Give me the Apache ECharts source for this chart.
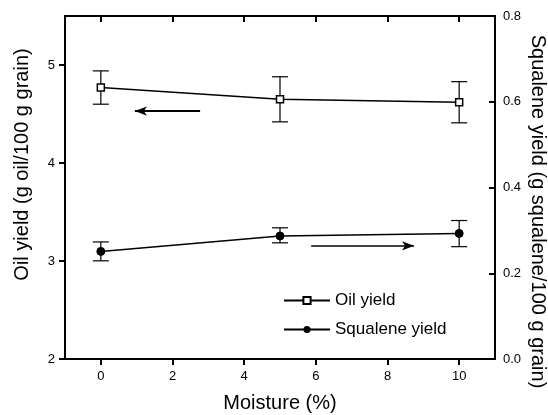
<!DOCTYPE html>
<html>
<head>
<meta charset="utf-8">
<script src="https://cdn.jsdelivr.net/npm/echarts@6/dist/echarts.min.js"></script>
<style>
  html, body { margin: 0; padding: 0; background: #fff; }
  #main { width: 548px; height: 415px; }
</style>
</head>
<body>
<div id="main"></div>
<script>
// moisture levels (%)
var moisture = [0, 5, 10];

// oil yield (g oil/100 g grain) with error bar ends
var oilYield = [4.77, 4.65, 4.62];
var oilLow   = [4.60, 4.42, 4.41];
var oilHigh  = [4.94, 4.88, 4.83];

// squalene yield (g squalene/100 g grain) with error bar ends
var squaleneYield = [0.251, 0.287, 0.293];
var squaleneLow   = [0.229, 0.271, 0.262];
var squaleneHigh  = [0.273, 0.306, 0.323];

// tick labels
var xTicks = [0, 2, 4, 6, 8, 10];
var leftTicks = [2, 3, 4, 5];

var FONT = 'Liberation Sans, Arial, sans-serif';

var chart = echarts.init(document.getElementById('main'));

function pairs(xs, ys) {
  return xs.map(function (x, i) { return [x, ys[i]]; });
}

// error bars drawn through the axis scales
function errorBar(low, high, yIdx) {
  return {
    type: 'custom',
    yAxisIndex: yIdx,
    silent: true,
    z: 1,
    data: moisture.map(function (x, i) { return [x, low[i], high[i]]; }),
    renderItem: function (params, api) {
      var lo = api.coord([api.value(0), api.value(1)]);
      var hi = api.coord([api.value(0), api.value(2)]);
      var w = 8;
      var style = { stroke: '#000', lineWidth: 1.2 };
      return {
        type: 'group',
        children: [
          { type: 'line', shape: { x1: lo[0], y1: lo[1], x2: hi[0], y2: hi[1] }, style: style },
          { type: 'line', shape: { x1: lo[0] - w, y1: lo[1], x2: lo[0] + w, y2: lo[1] }, style: style },
          { type: 'line', shape: { x1: hi[0] - w, y1: hi[1], x2: hi[0] + w, y2: hi[1] }, style: style }
        ]
      };
    }
  };
}

var axisLineStyle = { color: '#000', width: 2 };

var option = {
  backgroundColor: '#fff',
  animation: false,
  textStyle: { fontFamily: FONT, color: '#000' },
  grid: { left: 65, right: 53, top: 16, bottom: 56, containLabel: false, outerBoundsMode: 'none' },
  legend: {
    orient: 'vertical',
    left: 278,
    top: 287,
    itemWidth: 46,
    itemHeight: 9,
    itemGap: 12,
    data: ['Oil yield', 'Squalene yield'],
    textStyle: { fontFamily: FONT, fontSize: 17, color: '#000' }
  },
  xAxis: [
    {
      type: 'value',
      min: -1,
      max: 11,
      name: 'Moisture (%)',
      nameLocation: 'middle',
      nameGap: 34,
      nameTextStyle: { fontFamily: FONT, fontSize: 20, color: '#000' },
      axisLine: { onZero: false, lineStyle: axisLineStyle },
      axisTick: { inside: false, length: 6, customValues: xTicks, lineStyle: axisLineStyle },
      axisLabel: { customValues: xTicks, fontFamily: FONT, fontSize: 13, color: '#000', margin: 11 },
      splitLine: { show: false }
    },
    {
      type: 'value',
      position: 'top',
      min: -1,
      max: 11,
      axisLine: { onZero: false, lineStyle: axisLineStyle },
      axisTick: { inside: true, length: 6, customValues: xTicks, lineStyle: axisLineStyle },
      axisLabel: { show: false },
      splitLine: { show: false }
    }
  ],
  yAxis: [
    {
      type: 'value',
      min: 2,
      max: 5.5,
      name: 'Oil yield (g oil/100 g grain)',
      nameLocation: 'middle',
      nameGap: 33,
      nameMoveOverlap: false,
      nameTextStyle: { fontFamily: FONT, fontSize: 20, color: '#000', padding: [0, 0, 0, 46] },
      axisLine: { onZero: false, lineStyle: axisLineStyle },
      axisTick: { inside: false, length: 6, customValues: leftTicks, lineStyle: axisLineStyle },
      axisLabel: { customValues: leftTicks, fontFamily: FONT, fontSize: 13, color: '#000', margin: 10 },
      splitLine: { show: false }
    },
    {
      type: 'value',
      min: 0,
      max: 0.8,
      interval: 0.2,
      position: 'right',
      name: 'Squalene yield (g squalene/100 g grain)',
      nameLocation: 'middle',
      nameGap: 33,
      nameRotate: -90,
      nameMoveOverlap: false,
      nameTextStyle: { fontFamily: FONT, fontSize: 20, color: '#000', padding: [0, 0, 0, 48] },
      axisLine: { onZero: false, lineStyle: axisLineStyle },
      axisTick: { inside: true, length: 6, lineStyle: axisLineStyle },
      axisLabel: {
        fontFamily: FONT, fontSize: 13, color: '#000', margin: 8,
        formatter: function (v) { return v.toFixed(1); }
      },
      splitLine: { show: false }
    }
  ],
  series: [
    errorBar(oilLow, oilHigh, 0),
    errorBar(squaleneLow, squaleneHigh, 1),
    {
      name: 'Oil yield',
      type: 'line',
      yAxisIndex: 0,
      data: pairs(moisture, oilYield),
      symbol: 'rect',
      symbolSize: 7,
      itemStyle: { color: '#fff', borderColor: '#000', borderWidth: 1.5 },
      lineStyle: { color: '#000', width: 1.5 },
      z: 3,
      markLine: {
        silent: true,
        symbol: ['none', 'arrow'],
        symbolSize: [7, 12],
        label: { show: false },
        lineStyle: { color: '#000', width: 2, type: 'solid' },
        data: [[{ coord: [2.77, 4.53] }, { coord: [0.95, 4.53] }]]
      }
    },
    {
      name: 'Squalene yield',
      type: 'line',
      yAxisIndex: 1,
      data: pairs(moisture, squaleneYield),
      symbol: 'circle',
      symbolSize: 8,
      itemStyle: { color: '#000', borderColor: '#000' },
      lineStyle: { color: '#000', width: 1.5 },
      z: 3,
      markLine: {
        silent: true,
        symbol: ['none', 'arrow'],
        symbolSize: [7, 12],
        label: { show: false },
        lineStyle: { color: '#000', width: 1.5, type: 'solid' },
        data: [[{ coord: [5.87, 0.264] }, { coord: [8.74, 0.264] }]]
      }
    }
  ]
};

chart.setOption(option);
</script>
</body>
</html>
